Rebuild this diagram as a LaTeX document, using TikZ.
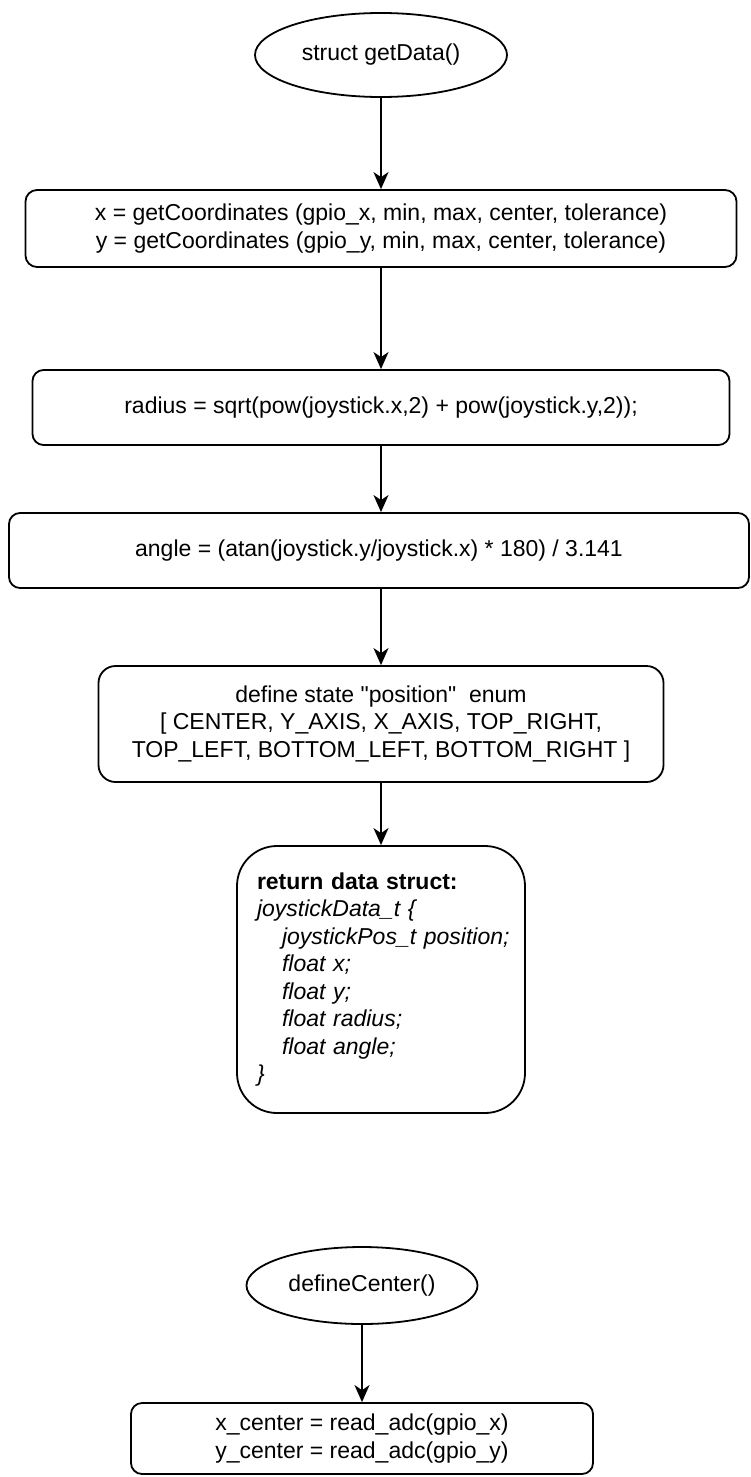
\documentclass[tikz,border=0pt]{standalone}
\usepackage{fontspec}
\setmainfont{Liberation Sans}[Ligatures=TeXOff]
\usetikzlibrary{shapes.geometric,arrows.meta}
\begin{document}
\begin{tikzpicture}[x=1pt,y=-1pt,
  every node/.style={font=\fontsize{23}{27.5}\selectfont, line width=1.8pt, draw=black, inner sep=0pt},
  oval/.style={ellipse},
  box/.style={rectangle, align=center},
  conn/.style={line width=1.8pt, -{Stealth[length=17pt,width=15pt,inset=5pt]}}
]
\fill[white] (0,0) rectangle (750,1477);
\useasboundingbox (0,0) rectangle (750,1477);

\node[oval, minimum width=252pt, minimum height=84pt] (e1) at (381,55) {struct getData()};

\node[box, minimum width=711pt, minimum height=77pt, rounded corners=11.5pt] (b1) at (381,228.5)
  {x = getCoordinates (gpio\_x, min, max, center, tolerance)\\y = getCoordinates (gpio\_y, min, max, center, tolerance)};

\node[box, minimum width=697pt, minimum height=75pt, rounded corners=11pt] (b2) at (381,407.5)
  {radius = sqrt(pow(joystick.x,2) + pow(joystick.y,2));};

\node[box, minimum width=740pt, minimum height=75pt, rounded corners=11pt] (b3) at (379,550.5)
  {angle = (atan(joystick.y/joystick.x) * 180) / 3.141};

\node[box, minimum width=565pt, minimum height=116pt, rounded corners=17pt] (b4) at (381,724)
  {define state "position"\ \ enum\\{}[ CENTER, Y\_AXIS, X\_AXIS, TOP\_RIGHT,\\TOP\_LEFT, BOTTOM\_LEFT, BOTTOM\_RIGHT ]};

\node[rectangle, align=left, text width=248pt, inner xsep=20pt, minimum height=267pt, rounded corners=40pt] (b5) at (381,979.5)
  {\textbf{return data struct:}\\
   \textit{joystickData\_t \{}\\
   \mbox{\hspace*{25pt}\textit{joystickPos\_t position;}}\\
   \hspace*{25pt}\textit{float x;}\\
   \hspace*{25pt}\textit{float y;}\\
   \hspace*{25pt}\textit{float radius;}\\
   \hspace*{25pt}\textit{float angle;}\\
   \textit{\}}};

\node[oval, minimum width=231pt, minimum height=77pt] (e2) at (362,1285.5) {defineCenter()};

\node[box, minimum width=462pt, minimum height=71pt, rounded corners=11pt] (b6) at (362,1438.5)
  {x\_center = read\_adc(gpio\_x)\\y\_center = read\_adc(gpio\_y)};

\draw[conn] (e1) -- (b1);
\draw[conn] (b1) -- (b2);
\draw[conn] (b2.south) -- (b2.south |- b3.north);
\draw[conn] (b3.south -| b4.north) -- (b4);
\draw[conn] (b4) -- (b5);
\draw[conn] (e2) -- (b6);
\end{tikzpicture}
\end{document}
